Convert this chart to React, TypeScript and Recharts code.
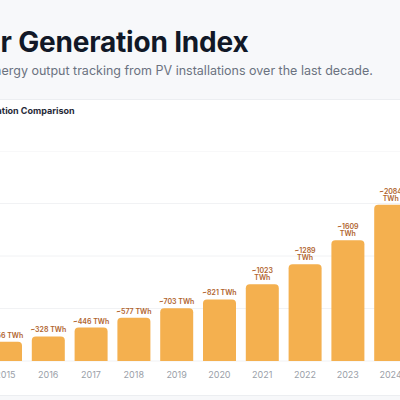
import React from 'react';
import { BarChart, Bar, XAxis, YAxis, CartesianGrid, LabelList } from 'recharts';

const years = ['2015', '2016', '2017', '2018', '2019', '2020', '2021', '2022', '2023', '2024'];
const generationTwh = [256, 328, 446, 577, 703, 821, 1023, 1289, 1609, 2084];
const yTicks = [700, 1400, 2100, 2800];

const data = years.map((year, i) => ({ year, value: generationTwh[i] }));

const FONT = 'Inter, "Noto Sans", sans-serif';

function renderValueLabel(props: any) {
  const { x, y, width, value } = props;
  const cx = x + width / 2;
  const text = `~${value}`;
  // long values wrap onto two lines like the original
  if (String(value).length >= 4) {
    return (
      <text x={cx} y={y - 4} textAnchor="middle" fontSize={7} fontWeight={600} fill="#b0642e" fontFamily={FONT}>
        <tspan x={cx} dy={-7}>{text}</tspan>
        <tspan x={cx} dy={7}>TWh</tspan>
      </text>
    );
  }
  return (
    <text x={cx} y={y - 4} textAnchor="middle" fontSize={7} fontWeight={600} fill="#b0642e" fontFamily={FONT}>
      {text} TWh
    </text>
  );
}

export default function App() {
  return (
    <div
      style={{
        position: 'fixed',
        top: 0,
        left: 0,
        width: 400,
        height: 400,
        overflow: 'hidden',
        background: '#f7f8fa',
        fontFamily: FONT,
      }}
    >
      <div
        style={{
          position: 'absolute',
          left: -58,
          top: 25,
          fontSize: 28,
          fontWeight: 700,
          color: '#111827',
          whiteSpace: 'nowrap',
          letterSpacing: -0.2,
        }}
      >
        Solar Generation Index
      </div>
      <div
        style={{
          position: 'absolute',
          left: -47,
          top: 63,
          fontSize: 12.5,
          color: '#6b7280',
          whiteSpace: 'nowrap',
        }}
      >
        Solar energy output tracking from PV installations over the last decade.
      </div>
      <div
        style={{
          position: 'absolute',
          left: -60,
          top: 99,
          width: 520,
          height: 295,
          background: '#ffffff',
          borderTop: '1px solid #eceef1',
          borderBottom: '1px solid #eceef1',
        }}
      />
      <div
        style={{
          position: 'absolute',
          left: -30,
          top: 105,
          fontSize: 9,
          fontWeight: 700,
          color: '#1f2937',
          whiteSpace: 'nowrap',
        }}
      >
        Generation Comparison
      </div>
      <div style={{ position: 'absolute', left: -16, top: 151 }}>
        <BarChart width={428} height={240} data={data} margin={{ top: 0, right: 0, bottom: 0, left: 0 }}>
          <CartesianGrid horizontal vertical={false} stroke="#f1f2f4" />
          <XAxis
            dataKey="year"
            axisLine={false}
            tickLine={false}
            height={30}
            tickMargin={5}
            tick={{ fontSize: 9, fill: '#9aa0a8', fontFamily: FONT }}
          />
          <YAxis hide domain={[0, 2800]} ticks={yTicks} />
          <Bar dataKey="value" fill="#f4b04f" barSize={33} radius={[4, 4, 0, 0]} isAnimationActive={false}>
            <LabelList dataKey="value" content={renderValueLabel} />
          </Bar>
        </BarChart>
      </div>
    </div>
  );
}
